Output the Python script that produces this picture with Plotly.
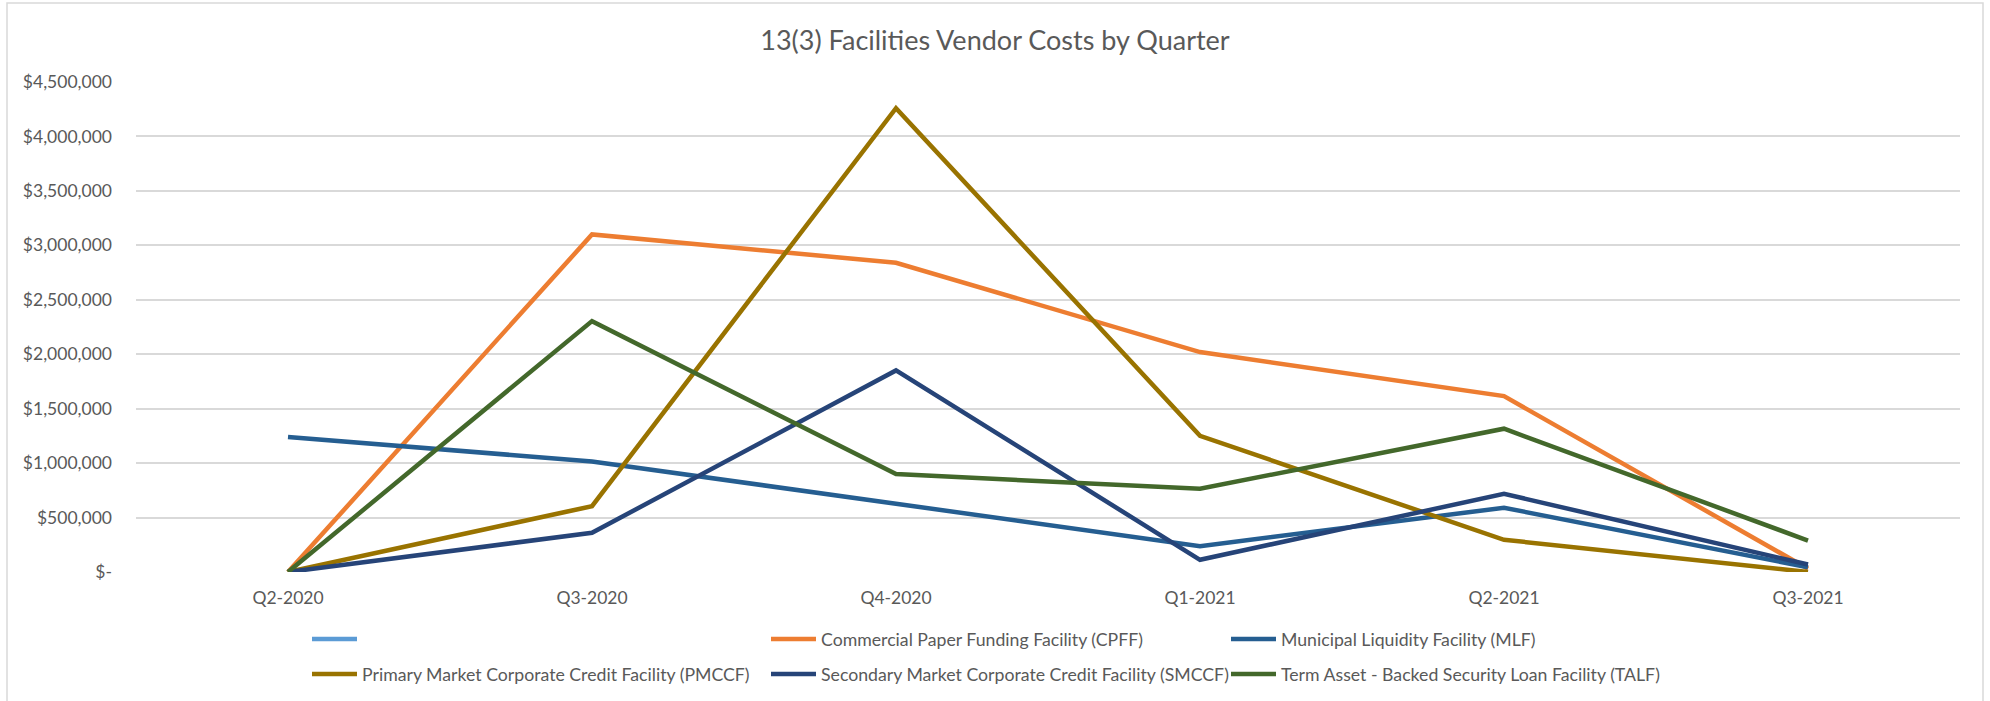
import plotly.graph_objects as go

# ---- data ----
quarters = ["Q2-2020", "Q3-2020", "Q4-2020", "Q1-2021", "Q2-2021", "Q3-2021"]
empty_series = [None, None, None, None, None, None]
cpff = [0, 3100000, 2840000, 2020000, 1615000, 30000]
mlf = [1240000, 1015000, 627000, 237000, 590000, 44000]
pmccf = [0, 605000, 4260000, 1250000, 296000, 0]
smccf = [0, 360000, 1851000, 112000, 718000, 69000]
talf = [0, 2304000, 899000, 764000, 1316000, 289000]

series_names = [
    "",
    "Commercial Paper Funding Facility (CPFF)",
    "Municipal Liquidity Facility (MLF)",
    "Primary Market Corporate Credit Facility (PMCCF)",
    "Secondary Market Corporate Credit Facility (SMCCF)",
    "Term Asset - Backed Security Loan Facility (TALF)",
]
series_values = [empty_series, cpff, mlf, pmccf, smccf, talf]
series_colors = ["#5B9BD5", "#ED7D31", "#255E91", "#997300", "#264478", "#43682B"]
series_legend = ["legend", "legend2", "legend3", "legend", "legend2", "legend3"]

y_tickvals = [0, 500000, 1000000, 1500000, 2000000, 2500000, 3000000, 3500000, 4000000, 4500000]
y_ticktext = ["$-", "$500,000", "$1,000,000", "$1,500,000", "$2,000,000", "$2,500,000",
              "$3,000,000", "$3,500,000", "$4,000,000", "$4,500,000"]

title_text = "13(3) Facilities Vendor Costs by Quarter"

# ---- layout geometry ----
W, H = 1990, 701
L, R, T, B = 136, 30, 82, 129
PW = W - L - R
PH = H - T - B

FONT = "Lato, 'Open Sans', sans-serif"
GREY = "#595959"
GRID = "#D9D9D9"

fig = go.Figure()
for i, (name, vals, col, lg) in enumerate(zip(series_names, series_values, series_colors, series_legend)):
    fig.add_trace(go.Scatter(
        x=quarters, y=vals, name=name, mode="lines",
        line=dict(color=col, width=4.5),
        legend=lg, legendgroup="g%d" % i,
    ))

def px_x(px):
    return (px - L) / PW

def px_y(py):
    return (H - B - py) / PH

def cx(px):
    return px / W

def cy(py):
    return 1 - py / H

legend_common = dict(
    orientation="v", xanchor="left", yanchor="top",
    xref="container", yref="container",
    bgcolor="rgba(0,0,0,0)", font=dict(family=FONT, size=17.7, color=GREY),
    tracegroupgap=9, itemwidth=45,
)

fig.update_layout(
    width=W, height=H,
    margin=dict(l=L, r=R, t=T, b=B, autoexpand=False),
    paper_bgcolor="white", plot_bgcolor="white",
    title=dict(text=title_text, x=0.5, xanchor="center", xref="container",
               y=cy(41), yanchor="middle", yref="container",
               font=dict(family=FONT, size=27, color=GREY)),
    font=dict(family=FONT, color=GREY),
    xaxis=dict(
        type="category", range=[-0.5, 5.5], showgrid=False, zeroline=False,
        showline=False, ticks="", ticklabelstandoff=13,
        tickfont=dict(family=FONT, size=17.5, color=GREY),
    ),
    yaxis=dict(
        range=[0, 4500000], tickvals=y_tickvals, ticktext=y_ticktext,
        showgrid=True, gridcolor=GRID, gridwidth=1.5, zeroline=False,
        showline=False, ticks="", ticklabelstandoff=23,
        tickfont=dict(family=FONT, size=17.5, color=GREY),
    ),
    legend=dict(x=cx(307), y=cy(621), **legend_common),
    legend2=dict(x=cx(766), y=cy(621), **legend_common),
    legend3=dict(x=cx(1226), y=cy(621), **legend_common),
    shapes=[dict(
        type="rect", xref="paper", yref="paper",
        x0=px_x(7), x1=px_x(1983), y0=px_y(710), y1=px_y(3),
        line=dict(color=GRID, width=1.5), fillcolor="rgba(0,0,0,0)", layer="below",
    )],
)

fig.write_html("out.html", config={"displayModeBar": False},
               post_script="document.body.style.margin='0';")
